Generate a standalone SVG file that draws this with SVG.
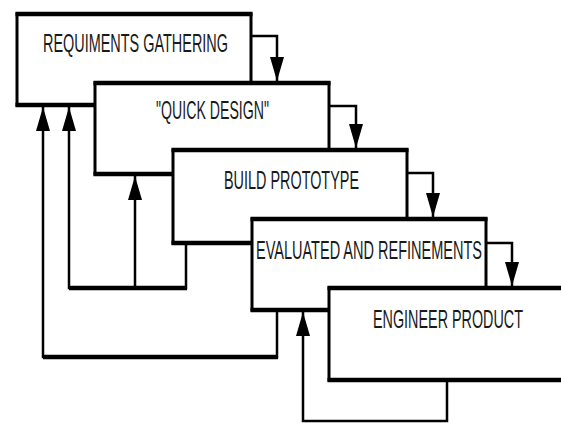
<svg xmlns="http://www.w3.org/2000/svg" width="561" height="423" viewBox="0 0 561 423">
<style>
.box{fill:#fff;stroke:#000;stroke-width:3}
.top{stroke:#000;stroke-width:4.5;fill:none}
.lbl{font-family:"Liberation Sans",Arial,sans-serif;font-size:25px;fill:#1a1a1a}
.conn{fill:none;stroke:#000;stroke-width:2.5;stroke-linejoin:miter}
</style>
<defs>
<marker id="ah" markerUnits="userSpaceOnUse" markerWidth="24" markerHeight="14" refX="24" refY="7" orient="auto" viewBox="0 0 24 14">
<path d="M0,0 L24,7 L0,14 z" fill="#000"/>
</marker>
</defs>
<rect width="561" height="423" fill="#fff"/>
<g id="n1">
<rect class="box" x="17" y="14" width="234" height="91"/>
<path class="top" d="M15.5,14 H252.5 M15.5,105 H95"/>
<text class="lbl" transform="scale(0.58,1)" x="74.14" y="52" textLength="318.97" lengthAdjust="spacingAndGlyphs">REQUIMENTS GATHERING</text>
</g>
<g id="n2">
<rect class="box" x="95" y="83" width="234" height="91"/>
<path class="top" d="M93.5,83 H330.5 M93.5,174 H173"/>
<text class="lbl" transform="scale(0.58,1)" x="268.97" y="119" textLength="194.83" lengthAdjust="spacingAndGlyphs">"QUICK DESIGN"</text>
</g>
<g id="n3">
<rect class="box" x="173" y="150" width="234" height="93"/>
<path class="top" d="M171.5,150 H408.5 M171.5,243 H252"/>
<text class="lbl" transform="scale(0.58,1)" x="386.21" y="189" textLength="232.76" lengthAdjust="spacingAndGlyphs">BUILD PROTOTYPE</text>
</g>
<g id="n4">
<rect class="box" x="252" y="219" width="234" height="91"/>
<path class="top" d="M250.5,219 H487.5 M250.5,310 H329"/>
<text class="lbl" transform="scale(0.58,1)" x="441.38" y="259" textLength="389.66" lengthAdjust="spacingAndGlyphs">EVALUATED AND REFINEMENTS</text>
</g>
<g id="n5">
<rect class="box" x="329" y="288" width="240" height="92"/>
<path class="top" d="M327.5,288 H561 M327.5,380 H561"/>
<text class="lbl" transform="scale(0.58,1)" x="643.10" y="328" textLength="258.62" lengthAdjust="spacingAndGlyphs">ENGINEER PRODUCT</text>
</g>
<g id="connectors">
<path class="conn" d="M251,36 H277 V81" marker-end="url(#ah)"/>
<path class="conn" d="M329,106 H356 V148" marker-end="url(#ah)"/>
<path class="conn" d="M407,173 H433 V217" marker-end="url(#ah)"/>
<path class="conn" d="M486,243 H512 V286" marker-end="url(#ah)"/>
<path class="conn" d="M186,243 V288 H69 V107" marker-end="url(#ah)"/>
<path class="conn" d="M135,288 V176" marker-end="url(#ah)"/>
<path class="conn" d="M277,310 V357 H43 V107" marker-end="url(#ah)"/>
<path class="conn" d="M447,380 V421 H303 V312" marker-end="url(#ah)"/>
<path class="top" d="M69,288 H187 M43,357 H278"/>
</g>
</svg>
